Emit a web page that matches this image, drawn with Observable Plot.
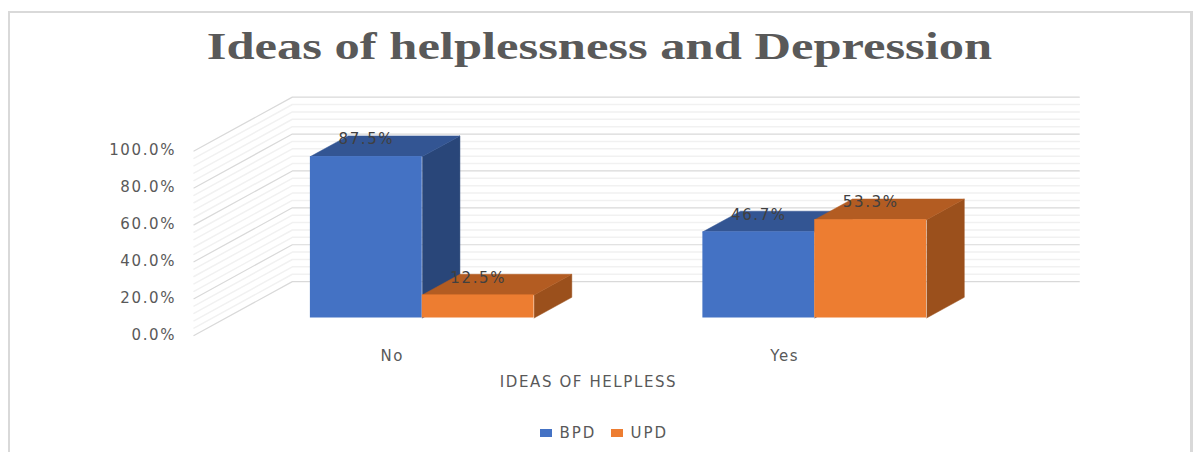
<!DOCTYPE html>
<html>
<head>
<meta charset="utf-8">
<script src="https://cdn.jsdelivr.net/npm/d3@7"></script>
<script src="https://cdn.jsdelivr.net/npm/@observablehq/plot@0.6"></script>
<style>
  html, body { margin: 0; padding: 0; background: #fff; }
  #chart { position: relative; width: 1195px; height: 452px; overflow: hidden; }
  #frame { position: absolute; left: 8px; top: 11px; right: 2px; bottom: 0; box-sizing: border-box;
           border: solid #d9d9d9; border-width: 2.5px 3px 0 2px; }
  #chart > svg { position: absolute; left: 0; top: 0; }
  #chart > svg text { letter-spacing: 1.6px; }
  h1 { position: absolute; left: 0; width: 1199px; top: 24px; margin: 0; text-align: center;
       font: bold 38px "Liberation Serif", serif; color: #595959; white-space: nowrap;
       transform: scaleX(1.33); transform-origin: 50% 50%; }
  #legend { position: absolute; left: 540px; top: 416.5px; margin: 0; color: #595959;
            font-family: "DejaVu Sans", sans-serif; font-size: 15px; letter-spacing: 1.9px; }
</style>
</head>
<body>
<div id="chart">
  <div id="frame"></div>
  <h1>Ideas of helplessness and Depression</h1>
</div>
<script>
const categories = ["No", "Yes"];
const seriesNames = ["BPD", "UPD"];
const bpdValues = [87.5, 46.7];
const updValues = [12.5, 53.3];
const majorTicks = [0, 20, 40, 60, 80, 100];
const minorTicks = [4, 8, 12, 16, 24, 28, 32, 36, 44, 48, 52, 56, 64, 68, 72, 76, 84, 88, 92, 96];
const axisTitle = "IDEAS OF HELPLESS";
const frontColors = ["#4472C4", "#ED7D31"];
const sideColors = ["#294679", "#9B501C"];
const topColors = ["#335593", "#B35C22"];

// Oblique projection: depth 0 is the front of the bars, depth 1 their back.
const skewX = 0.096;
const skewY = 11.2;
const barWidth = 0.285;
const wallFront = -0.85;
const wallBack = 1.76;
const project = (x, v, depth) => ({x: x + depth * skewX, y: v + depth * skewY});

const bars = seriesNames.map((name, s) =>
  (s === 0 ? bpdValues : updValues).map((value, c) => ({
    name, s, value, category: categories[c],
    x1: c + (s - 1) * barWidth,
    x2: c + s * barWidth
  }))
).flat();

// Outline of a bar face given as [x, value, depth] corners.
const facePoints = (corners) => corners.map(([x, v, d]) => project(x, v, d));
const sideFace = (b) => facePoints([[b.x2, 0, 0], [b.x2, 0, 1], [b.x2, b.value, 1], [b.x2, b.value, 0]]);
const topFace = (b) => facePoints([[b.x1, b.value, 0], [b.x1, b.value, 1], [b.x2, b.value, 1], [b.x2, b.value, 0]]);

// Gridline running along the side wall and then across the back wall.
const gridLine = (v) => facePoints([[-0.5, v, wallFront], [-0.5, v, wallBack], [1.505, v, wallBack]]);

const gridMarks = (ticks, stroke, strokeWidth) =>
  ticks.map((v) => Plot.line(gridLine(v), {x: "x", y: "y", stroke, strokeWidth}));

const barMarks = bars.map((b) => [
  Plot.line(sideFace(b), {x: "x", y: "y", fill: sideColors[b.s], stroke: sideColors[b.s], strokeWidth: 0.5}),
  Plot.line(topFace(b), {x: "x", y: "y", fill: topColors[b.s], stroke: topColors[b.s], strokeWidth: 0.5}),
  Plot.rect([b], {x1: "x1", x2: "x2", y1: 0, y2: "value", fill: "name"})
]);

const plot = Plot.plot({
  width: 1195,
  height: 452,
  marginLeft: 225.5,
  marginRight: 184.5,
  marginTop: 133,
  marginBottom: 134.5,
  style: {background: "transparent", fontFamily: "'DejaVu Sans', sans-serif"},
  x: {domain: [-0.5, 1.5]},
  y: {domain: [0, 100]},
  color: {domain: seriesNames, range: frontColors},
  marks: [
    gridMarks(minorTicks, "#f1f1f1", 1.5),
    gridMarks(majorTicks, "#d9d9d9", 1.2),
    barMarks,
    Plot.text(bars, {
      x: (b) => (b.x1 + b.x2) / 2,
      y: "value",
      text: (b) => b.value.toFixed(1) + "%",
      dy: -17,
      fill: "#404040",
      fontSize: 15
    }),
    Plot.axisY({
      ticks: majorTicks,
      tickSize: 0,
      tickPadding: 0,
      dx: -50,
      dy: 17,
      label: null,
      fontSize: 15,
      color: "#595959",
      tickFormat: (v) => v.toFixed(1) + "%"
    }),
    Plot.axisX({
      ticks: [0, 1],
      tickSize: 0,
      tickPadding: 0,
      dx: -30,
      dy: 32,
      fontSize: 15,
      color: "#595959",
      tickFormat: (i) => categories[i],
      label: null
    }),
    Plot.text([axisTitle], {
      x: () => 0.5,
      frameAnchor: "bottom",
      lineAnchor: "middle",
      dx: -30,
      dy: 64.5,
      fontSize: 15,
      fill: "#595959"
    })
  ]
});
document.getElementById("chart").appendChild(plot);

const legend = plot.legend("color", {swatchWidth: 12, swatchHeight: 8, label: null});
legend.id = "legend";
document.getElementById("chart").appendChild(legend);
</script>
</body>
</html>
